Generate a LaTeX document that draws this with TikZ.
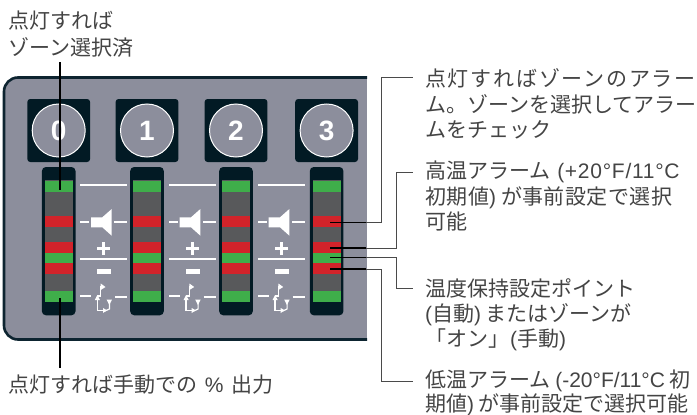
\documentclass[tikz,border=0pt]{standalone}
\usepackage{fontspec}
\setmainfont{Noto Sans CJK JP}
\newfontfamily\cjkwide[LetterSpace=8.5]{Noto Sans CJK JP}
\newfontfamily\cjksemi[LetterSpace=2]{Noto Sans CJK JP}
\newfontfamily\lat{Liberation Sans}
\newfontfamily\latwide[LetterSpace=3.5]{Liberation Sans}
\newfontfamily\digitfont{Liberation Sans}
\definecolor{panelgray}{HTML}{8C8E9C}
\definecolor{paneldark}{HTML}{0D2430}
\definecolor{keydark}{HTML}{021A24}
\definecolor{ledgreen}{HTML}{3FAE4A}
\definecolor{ledred}{HTML}{D2232A}
\definecolor{ledgray}{HTML}{58595B}
\definecolor{leadgray}{HTML}{4A4A4A}
\definecolor{txt}{HTML}{444444}
\tikzset{
  lab/.style={anchor=north west,inner sep=0pt,align=left,text=txt,font=\fontsize{21}{25.4}\selectfont},
  keysq/.style={fill=keydark,rounded corners=3pt,draw=none},
  barbox/.style={fill=keydark,rounded corners=4pt,draw=none},
  keyring/.style={circle,draw=white,fill=panelgray,line width=1pt,minimum size=53pt,inner sep=0pt,text=white,font=\digitfont\bfseries\fontsize{28}{28}\selectfont},
  iconline/.style={draw=white,line width=1.7pt},
  iconthin/.style={draw=white,line width=1.2pt},
  iconfill/.style={fill=white,draw=none},
  leadblack/.style={draw=black,line width=1.3pt},
  leadthin/.style={draw=leadgray,line width=0.9pt},
}
\begin{document}
\begin{tikzpicture}[x=1pt,y=-1pt]
\useasboundingbox (0,0) rectangle (697,415);
% panel
\fill[panelgray,rounded corners=14pt] (380,77.5) -- (4,77.5) -- (4,339.5) -- (380,339.5) -- cycle;
\fill[white] (367,70) rectangle (385,345);
\draw[paneldark,line width=2.6pt,rounded corners=14pt] (367,77.5) -- (4,77.5) -- (4,339.5) -- (367,339.5);
% keys and LED bars
\foreach \cx/\d/\nm in {58.7/0/a,147/1/b,236/2/c,326.6/3/d}{
  \fill[keysq] (\cx-31.4,99) rectangle (\cx+31.4,162);
  \node[keyring] (key\nm) at (\cx,130.5) {\d};
  \fill[barbox] (\cx-16.8,167) rectangle (\cx+16.8,315.3);
  \fill[ledgray] (\cx-14,180) rectangle (\cx+14,302);
  \fill[ledgreen] (\cx-14,180.7) rectangle (\cx+14,192);
  \fill[ledred] (\cx-14,216) rectangle (\cx+14,227);
  \fill[ledred] (\cx-14,242) rectangle (\cx+14,252.5);
  \fill[ledgreen] (\cx-14,252.5) rectangle (\cx+14,263);
  \fill[ledred] (\cx-14,263) rectangle (\cx+14,274);
  \fill[ledgreen] (\cx-14,291) rectangle (\cx+14,302);
}
% icons between bars
\foreach \dx in {0,88.7,177.7}{
\begin{scope}[xshift=\dx pt]
  \draw[iconline] (80.3,184.7) -- (127,184.7);
  \draw[iconline] (80.3,259) -- (127,259);
  \draw[iconline] (80.3,222.3) -- (89,222.3);
  \draw[iconline] (114.3,222.3) -- (127,222.3);
  \fill[iconfill] (91,217.3) -- (102.3,217.3) -- (111.7,209) -- (111.7,235.7) -- (102.3,227.3) -- (91,227.3) -- cycle;
  \fill[iconfill] (97,247.4) rectangle (110.3,250);
  \fill[iconfill] (102.4,242) rectangle (105,255.4);
  \fill[iconfill] (97,268.7) rectangle (111,273.7);
  \draw[iconline] (80.3,296.2) -- (91,296.2);
  \draw[iconline] (115,296.7) -- (127,296.7);
  % mode icon
  \draw[iconthin] (97.3,296) -- (100.7,296) -- (100.7,286);
  \fill[iconfill] (100.7,283.5) -- (105.5,287) -- (100.7,290) -- cycle;
  \fill[iconfill] (94.8,300) -- (97.3,295) -- (100,300) -- cycle;
  \draw[iconthin] (97.3,297) -- (97.3,310.5) -- (104,310.5);
  \fill[iconfill] (103,308) -- (107,310.3) -- (103,313) -- cycle;
  \draw[iconthin] (105,311) -- (109.4,309) -- (109.4,303);
  \fill[iconfill] (106.5,299.5) -- (112,299.5) -- (109.3,305) -- cycle;
\end{scope}}
% named connector ends
\coordinate (zt) at (60,62);
\coordinate (zb) at (60,189.5);
\coordinate (mt) at (60,298);
\coordinate (mb) at (60,368);
\coordinate (a0) at (330,222.5); \coordinate (a1) at (366,222.5); \coordinate (a2) at (413,77.5);
\coordinate (h0) at (330,248); \coordinate (h1) at (366,248); \coordinate (h2) at (413,172.5);
\coordinate (s0) at (330,257.7); \coordinate (s1) at (366,257.7); \coordinate (s2) at (413,288.7);
\coordinate (l0) at (330,269); \coordinate (l1) at (366,269); \coordinate (l2) at (413,381.7);
\draw[leadblack] (zt) -- (zb);
\draw[leadblack] (mt) -- (mb);
\draw[leadthin] (a1) -- (381.7,222.5) -- (381.7,77.5) -- (a2);
\draw[leadthin] (h1) -- (396,248) -- (396,172.5) -- (h2);
\draw[leadthin] (s1) -- (396,257.7) -- (396,288.7) -- (s2);
\draw[leadthin] (l1) -- (381.7,269) -- (381.7,381.7) -- (l2);
\foreach \p in {a,h,s,l}{\draw[leadblack] (\p0) -- (\p1);}
% labels
\node[lab,font=\fontsize{21}{26.7}\selectfont] (tzone) at (8,11) {点灯すれば\\ゾーン選択済};
\node[lab] (tman) at (8,375) {点灯すれば手動での\hspace{3pt} {\lat \%}\hspace{3pt} 出力};
\node[lab] (talarm) at (425,68.5) {{\cjkwide 点灯すればゾーンのアラー}\\ム。ゾーンを選択してアラー\\ムをチェック};
\node[lab] (thigh) at (425,161) {高温アラーム\hspace{2pt} {\latwide (+20°F/11°C}\\{\cjksemi 初期値{\lat )} が事前設定で選択}\\可能};
\node[lab] (tset) at (425,278) {温度保持設定ポイント\\{\lat (}自動{\lat )} またはゾーンが\\「オン」\hspace{-5pt}{\lat\ (}手動{\lat )}};
\node[lab,font=\fontsize{21}{24}\selectfont] (tlow) at (425,369.5) {低温アラーム {\lat (-20°F/11°C} 初\\期値{\lat )} が事前設定で選択可能};
\end{tikzpicture}
\end{document}
